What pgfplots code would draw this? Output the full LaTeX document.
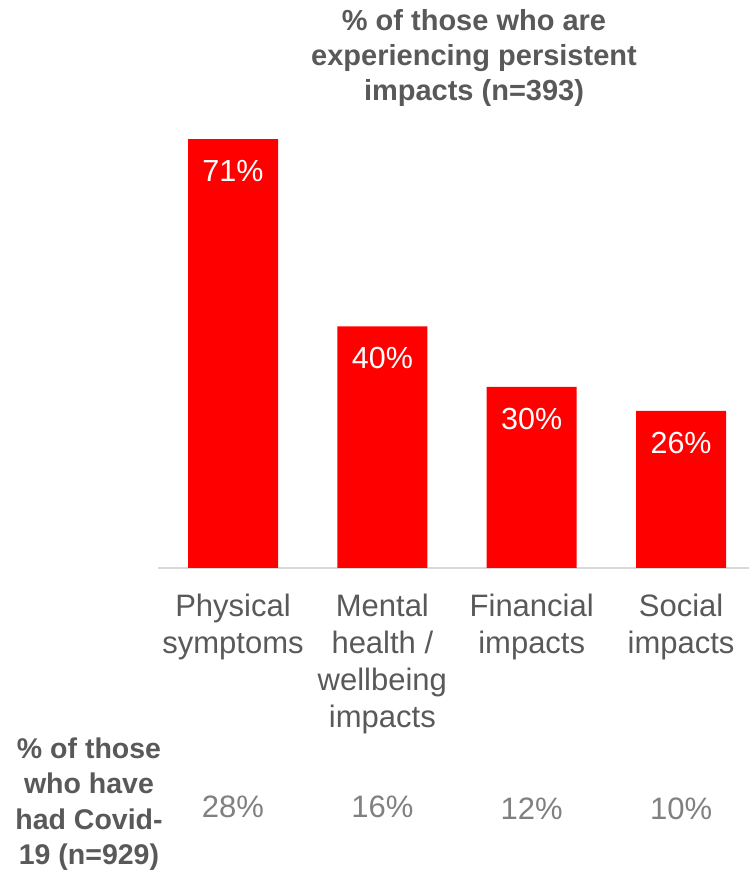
\documentclass[border=0pt]{standalone}
\usepackage{fontspec}
\setmainfont{Liberation Sans}
\usepackage{pgfplots}
\pgfplotsset{compat=1.18}
\definecolor{barred}{HTML}{FF0000}
\definecolor{labgray}{HTML}{595959}
\definecolor{valgray}{HTML}{808080}
\definecolor{linegray}{HTML}{D9D9D9}
\begin{document}
\begin{tikzpicture}
\path[use as bounding box] (0pt,0pt) rectangle (749pt,870pt);
% chart title
\node[font=\bfseries\fontsize{29}{35}\selectfont, text=labgray, align=center, anchor=center]
  at (474pt,812pt) {\% of those who are\\experiencing persistent\\impacts (n=393)};
% row label for the second set of figures
\node[font=\bfseries\fontsize{28.5}{35.5}\selectfont, text=labgray, align=center, anchor=center]
  at (89pt,66pt) {\% of those\\who have\\had Covid-\\19 (n=929)};
\begin{axis}[
  at={(233pt,302pt)}, anchor=origin,
  scale only axis, width=591pt, height=483.2pt,
  xmin=-0.502, xmax=3.455, ymin=0, ymax=80,
  axis x line*=bottom, axis y line=none,
  x axis line style={linegray, line width=1.5pt},
  xtick={0,1,2,3}, xtick style={draw=none},
  xticklabels={Physical\\symptoms, Mental\\health /\\wellbeing\\impacts, Financial\\impacts, Social\\impacts},
  xticklabel style={font=\fontsize{31}{36.7}\selectfont, text=labgray, align=center, anchor=north, yshift=-23pt},
  clip=false,
]
% persistent impacts (n=393)
\addplot[ybar, bar width=90pt, fill=barred, draw=none,
  nodes near coords={\pgfmathprintnumber[assume math mode=true]{\pgfplotspointmeta}\%},
  every node near coord/.append style={font=\fontsize{30.5}{36}\selectfont, text=white, anchor=north, inner sep=0pt, yshift=-21pt}]
  coordinates {(0,71) (1,40) (2,30) (3,26)};
% had Covid-19 (n=929), shown as figures below the categories
\addplot[only marks, mark=none, point meta=explicit,
  nodes near coords={\pgfmathprintnumber[assume math mode=true]{\pgfplotspointmeta}\%},
  every node near coord/.append style={font=\fontsize{31}{36}\selectfont, text=valgray, anchor=center, inner sep=0pt}]
  coordinates {(0,-39.6) [28] (1,-39.6) [16] (2,-39.8) [12] (3,-39.8) [10]};
\end{axis}
\end{tikzpicture}
\end{document}
